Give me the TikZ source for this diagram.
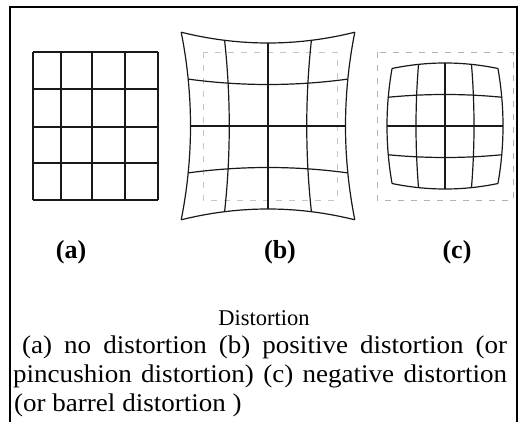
\documentclass[tikz,border=0pt]{standalone}
\usepackage{fontspec}
\setmainfont{Liberation Serif}
\newfontfamily\capfont[FakeStretch=1.06]{Liberation Serif}
\begin{document}
\begin{tikzpicture}[x=1pt,y=-1pt,
  gridline/.style={line width=1.2pt, black!90},
  frameline/.style={line width=1.3pt},
  guide/.style={gray!60, line width=0.7pt, dash pattern=on 6pt off 7pt},
  lab/.style={font=\fontsize{26}{30}\selectfont\bfseries, inner sep=0pt, anchor=base},
  titletxt/.style={font=\fontsize{22.5}{26}\selectfont, inner sep=0pt, anchor=base},
  captxt/.style={font=\capfont\fontsize{25.5}{29}\selectfont, inner sep=0pt, anchor=base west}]
\useasboundingbox (0,0) rectangle (524,422);
\fill[white] (0,0) rectangle (524,422);
% frame
\draw[frameline] (10,422) -- (10,7) -- (517,7) -- (517,422);
% (a) regular grid
\foreach \gx in {33,61,92,125,158} \draw[gridline] (\gx,52) -- (\gx,200);
\foreach \gy in {52,89,127,163,200} \draw[gridline] (33,\gy) -- (158,\gy);
% (b) pincushion
\draw[guide, gray!45] (203,52) rectangle (337,200);
\foreach \v in {-1,-0.5,0,0.5,1} {
  \draw[gridline] plot[domain=-1:1, samples=25, smooth]
    ({268+77.5*\x*(1+0.12*(\v)*(\v))}, {126+83*(\v)*(1+0.13*\x*\x)});
  \draw[gridline] plot[domain=-1:1, samples=25, smooth]
    ({268+77.5*(\v)*(1+0.12*\x*\x)}, {126+83*\x*(1+0.13*(\v)*(\v))});
}
% (c) barrel
\draw[guide] (377,52) rectangle (513,200);
\foreach \v in {-1,-0.5,0,0.5,1} {
  \draw[gridline] plot[domain=-1:1, samples=25, smooth]
    ({445+58*\x*(1-0.087*(\v)*(\v))}, {126+63*(\v)*(1-0.087*\x*\x)});
  \draw[gridline] plot[domain=-1:1, samples=25, smooth]
    ({445+58*(\v)*(1-0.087*\x*\x)}, {126+63*\x*(1-0.087*(\v)*(\v))});
}
% labels
\node[lab] (la) at (71,258) {(a)};
\node[lab] (lb) at (280,258) {(b)};
\node[lab] (lc) at (457,258) {(c)};
% caption
\node[titletxt] (title) at (264,325) {Distortion};
\node[captxt] (l1) at (22,353) {\makebox[485pt][s]{(a) no distortion (b) positive distortion (or}};
\node[captxt] (l2) at (13,382) {\makebox[494pt][s]{pincushion distortion) (c) negative distortion}};
\node[captxt] (l3) at (14,411) {(or barrel distortion )};
\end{tikzpicture}
\end{document}
